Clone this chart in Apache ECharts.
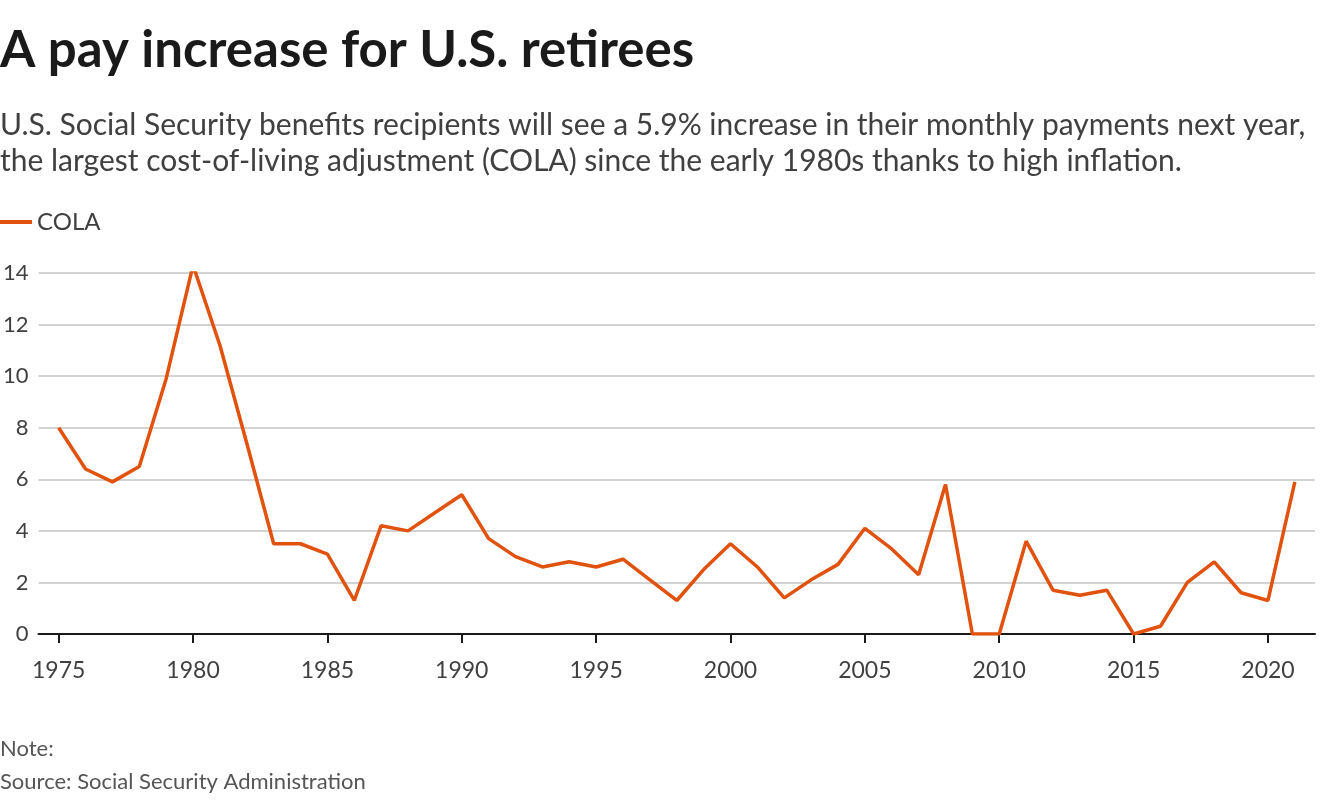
<!DOCTYPE html>
<html><head><meta charset="utf-8">
<script src="https://cdn.jsdelivr.net/npm/echarts@6/dist/echarts.min.js"></script>
<style>html,body{margin:0;padding:0;background:#fff}#c{width:1320px;height:800px}</style>
</head><body><div id="c"></div>
<script>
const years = [1975,1976,1977,1978,1979,1980,1981,1982,1983,1984,1985,1986,1987,1988,1989,1990,1991,1992,1993,1994,1995,1996,1997,1998,1999,2000,2001,2002,2003,2004,2005,2006,2007,2008,2009,2010,2011,2012,2013,2014,2015,2016,2017,2018,2019,2020,2021];
const cola = [8.0,6.4,5.9,6.5,9.9,14.3,11.2,7.4,3.5,3.5,3.1,1.3,4.2,4.0,4.7,5.4,3.7,3.0,2.6,2.8,2.6,2.9,2.1,1.3,2.5,3.5,2.6,1.4,2.1,2.7,4.1,3.3,2.3,5.8,0,0,3.6,1.7,1.5,1.7,0,0.3,2.0,2.8,1.6,1.3,5.9];
const xTicks = [1975,1980,1985,1990,1995,2000,2005,2010,2015,2020];
const yTicks = [0,2,4,6,8,10,12,14];
const FONT = 'Lato';
const chart = echarts.init(document.getElementById('c'));
chart.setOption({
  animation:false,
  textStyle:{fontFamily:FONT},
  title:[
    {text:'A pay increase for U.S. retirees',left:0,top:25,padding:0,textStyle:{fontFamily:FONT,fontSize:51,fontWeight:'bold',color:'#1a1a1a'}},
    {text:'U.S. Social Security benefits recipients will see a 5.9% increase in their monthly payments next year,\nthe largest cost-of-living adjustment (COLA) since the early 1980s thanks to high inflation.',left:0,top:107,padding:0,textStyle:{fontFamily:FONT,fontSize:30,fontWeight:'normal',color:'#404040',lineHeight:36}},
    {text:'Note:\nSource: Social Security Administration',left:0,top:732,padding:0,textStyle:{fontFamily:FONT,fontSize:22,fontWeight:'normal',color:'#555',lineHeight:33}}
  ],
  legend:{left:0,top:210,padding:0,itemWidth:32,itemHeight:4,itemGap:8,icon:'rect',textStyle:{fontSize:24,color:'#404040',fontFamily:FONT},data:['COLA']},
  grid:{left:38,right:5,top:273,bottom:166,containLabel:false},
  xAxis:{type:'value',min:1974.25,max:2021.75,
    axisLine:{show:true,lineStyle:{color:'#1a1a1a',width:2}},
    axisTick:{show:true,customValues:xTicks,length:9,lineStyle:{color:'#1a1a1a',width:2}},
    axisLabel:{customValues:xTicks,formatter:v=>String(v),fontSize:23,color:'#404040',margin:25,fontFamily:FONT},
    splitLine:{show:false}},
  yAxis:{type:'value',min:0,max:14,interval:2,
    axisLine:{show:false},axisTick:{show:false},
    axisLabel:{fontSize:22,color:'#404040',margin:10,fontFamily:FONT,align:'right'},
    splitLine:{show:true,lineStyle:{color:'#c4c4c4',width:1.5}}},
  series:[{name:'COLA',type:'line',data:years.map((y,i)=>[y,cola[i]]),symbol:'none',lineStyle:{color:'#e0520e',width:3.5},itemStyle:{color:'#e0520e'}}]
});
</script></body></html>
